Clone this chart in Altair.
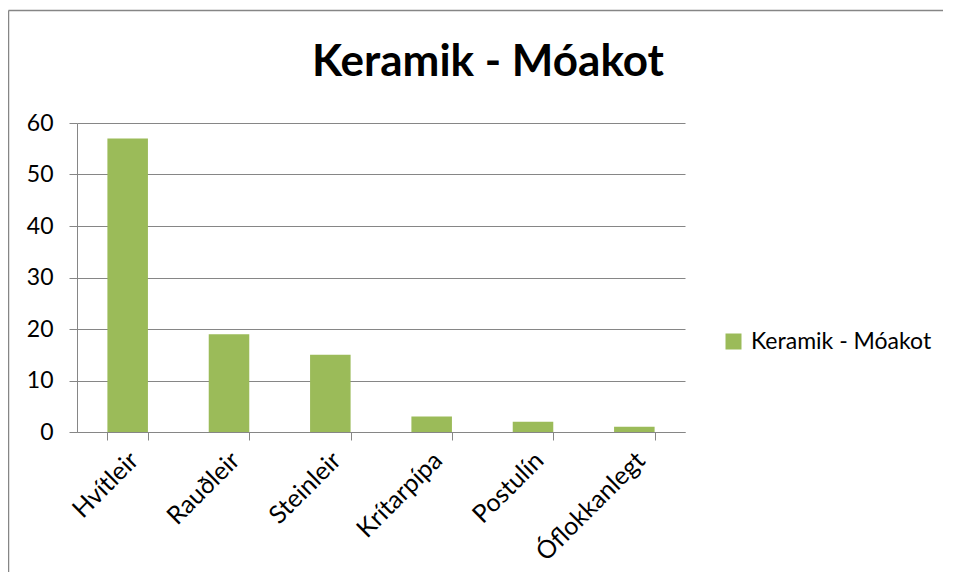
import altair as alt
import pandas as pd

categories = ["Hvítleir", "Rauðleir", "Steinleir", "Krítarpípa", "Postulín", "Óflokkanlegt"]
values = [57, 19, 15, 3, 2, 1]
series_name = "Keramik - Móakot"
y_ticks = [0, 10, 20, 30, 40, 50, 60]

df = pd.DataFrame({"cat": categories, "val": values, "series": [series_name] * len(categories)})

GRAY = "#868686"
GREEN = "#9BBB59"
FONT = "Lato"

W, H = 608, 309

bars = alt.Chart(df).mark_bar(color=GREEN).encode(
    x=alt.X("cat:N", sort=categories, title=None,
            scale=alt.Scale(paddingInner=0.6, paddingOuter=0.3),
            axis=alt.Axis(labelAngle=-45, labelAlign="right", labelBaseline="middle",
                          labelPadding=16, labelOffset=6, tickBand="extent",
                          tickSize=8, tickColor=GRAY, domainColor=GRAY,
                          labelFont=FONT, labelFontSize=25, labelColor="#000000",
                          labelLimit=0, grid=False)),
    y=alt.Y("val:Q", title=None,
            scale=alt.Scale(domain=[0, 60], nice=False),
            axis=alt.Axis(values=y_ticks, tickSize=8, tickColor=GRAY, domainColor=GRAY,
                          gridColor=GRAY, labelPadding=16, labelFont=FONT,
                          labelFontSize=23, labelColor="#000000")),
    color=alt.Color("series:N", scale=alt.Scale(range=[GREEN]),
                    legend=alt.Legend(title=None, orient="none", legendX=645, legendY=207,
                                      padding=0, symbolType="square", symbolSize=256,
                                      symbolStrokeWidth=0, labelFont=FONT, labelFontSize=23,
                                      labelLimit=0, labelColor="#000000", labelOffset=6)),
)

title = alt.Chart(alt.Data(values=[{}])).mark_text(
    font=FONT, fontSize=44, fontWeight="bold", align="center", baseline="alphabetic",
    color="#000000"
).encode(x=alt.value(411), y=alt.value(-47), text=alt.value(series_name))

frame_top = alt.Chart(alt.Data(values=[{}])).mark_rule(
    stroke=GRAY, strokeWidth=1.5
).encode(x=alt.value(-68.5), x2=alt.value(1200), y=alt.value(-112.5))

frame_left = alt.Chart(alt.Data(values=[{}])).mark_rule(
    stroke=GRAY, strokeWidth=1.5
).encode(x=alt.value(-68.5), y=alt.value(-112.5), y2=alt.value(800))

chart = alt.layer(frame_top, frame_left, bars, title).properties(
    width=W, height=H,
    autosize=alt.AutoSizeParams(type="none"),
    padding={"left": 69, "top": 115, "right": 258, "bottom": 140},
).configure_view(stroke=None).configure_axis(gridWidth=1, domainWidth=1, tickWidth=1)

chart.save("out.html", embed_options={"renderer": "svg", "actions": False})
